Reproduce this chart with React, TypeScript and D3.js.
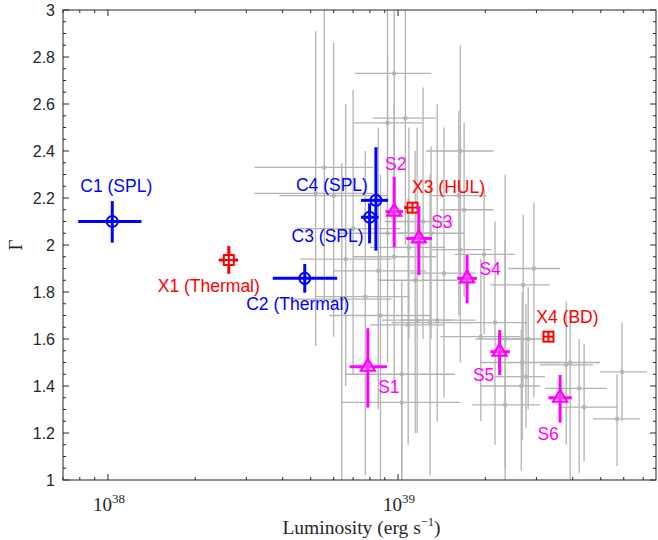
import React from "react";
import * as d3 from "d3";

// Luminosities in units of 1e39 erg/s, photon index Γ
// Gray sample: [L, Γ, L_lo, L_hi, Γ_lo, Γ_hi]
const grayL = [0.97, 1.06, 0.92, 0.557, 1.64, 1.69, 1.98, 2.94, 2.70, 1.03, 1.03, 1.93, 2.81, 2.68, 2.76, 2.66, 2.34, 3.80, 3.92, 4.21, 4.38, 5.92, 5.69, 0.52, 0.60, 0.70, 0.855, 0.97, 1.146, 1.44, 1.64, 0.87, 1.084, 1.164, 1.29, 1.365, 1.09, 2.16, 2.34, 0.92, 0.64, 0.771, 1.62, 1.22, 0.66, 1.30];
const grayG = [2.73, 2.54, 2.52, 2.33, 2.40, 2.15, 1.96, 1.90, 1.83, 1.45, 1.33, 1.61, 1.60, 1.50, 1.44, 1.40, 1.32, 1.49, 1.50, 1.39, 1.31, 1.46, 1.26, 2.22, 2.21, 2.07, 1.89, 1.95, 1.85, 1.88, 1.98, 1.70, 1.66, 1.68, 1.67, 1.68, 1.99, 1.67, 1.60, 2.05, 1.77, 1.78, 2.21, 2.10, 1.94, 2.05];
const grayLlo = [0.71, 0.82, 0.70, 0.32, 1.25, 1.40, 1.57, 2.40, 2.08, 0.66, 0.64, 1.40, 2.25, 1.92, 2.16, 1.92, 1.80, 3.09, 3.21, 3.21, 3.62, 4.97, 4.70, 0.32, 0.39, 0.45, 0.60, 0.70, 0.85, 1.10, 1.30, 0.58, 0.80, 0.88, 0.95, 1.02, 0.80, 1.60, 1.85, 0.62, 0.42, 0.52, 1.30, 0.90, 0.46, 1.00];
const grayLhi = [1.30, 1.35, 1.21, 0.82, 2.13, 2.13, 2.53, 3.62, 3.34, 1.57, 1.64, 2.64, 3.48, 3.62, 3.21, 3.09, 3.09, 4.70, 4.97, 5.25, 5.69, 7.21, 6.82, 0.82, 0.92, 1.02, 1.25, 1.35, 1.60, 1.85, 2.10, 1.30, 1.45, 1.55, 1.80, 1.85, 1.45, 2.80, 2.95, 1.35, 0.95, 1.10, 2.02, 1.55, 0.95, 1.70];
const grayGlo = [2.22, 2.00, 2.08, 1.75, 1.80, 1.78, 1.62, 1.35, 1.40, 1.00, 1.00, 1.25, 1.30, 1.17, 1.22, 1.04, 1.00, 1.15, 1.00, 1.03, 1.08, 1.25, 1.06, 1.57, 1.61, 1.45, 1.30, 1.40, 1.20, 1.35, 1.50, 1.00, 1.15, 1.20, 1.02, 1.25, 1.60, 1.15, 1.05, 1.50, 1.00, 1.02, 1.70, 1.60, 1.40, 1.60];
const grayGhi = [3.0, 3.0, 3.0, 3.0, 2.85, 2.52, 2.24, 2.18, 2.13, 1.85, 1.78, 1.94, 1.82, 1.80, 1.75, 1.64, 2.02, 1.76, 1.72, 1.60, 1.58, 1.67, 1.45, 2.91, 2.86, 2.66, 2.50, 2.60, 2.40, 2.50, 2.45, 2.30, 2.20, 2.50, 2.30, 2.60, 2.50, 2.10, 2.30, 2.80, 2.35, 2.40, 2.57, 2.67, 2.60, 2.42];

// Blue sources (C)
const cNames = ["C1 (SPL)", "C2 (Thermal)", "C3 (SPL)", "C4 (SPL)"];
const cL = [0.1035, 0.477, 0.798, 0.839];
const cG = [2.10, 1.858, 2.118, 2.19];
const cLlo = [0.079, 0.370, 0.745, 0.745];
const cLhi = [0.1305, 0.617, 0.857, 0.923];
const cGlo = [2.01, 1.797, 2.007, 1.976];
const cGhi = [2.187, 1.919, 2.177, 2.416];

// Red sources (X)
const xNames = ["X1 (Thermal)", "X3 (HUL)", "X4 (BD)"];
const xL = [0.261, 1.122, 3.30];
const xG = [1.936, 2.159, 1.61];
const xLlo = [0.241, 1.05, 3.22];
const xLhi = [0.281, 1.18, 3.38];
const xGlo = [1.877, 2.14, 1.595];
const xGhi = [1.996, 2.174, 1.625];

// Magenta sources (S)
const sNames = ["S1", "S2", "S3", "S4", "S5", "S6"];
const sL = [0.787, 0.970, 1.18, 1.73, 2.24, 3.62];
const sG = [1.482, 2.142, 2.028, 1.858, 1.546, 1.35];
const sLlo = [0.681, 0.906, 1.067, 1.60, 2.08, 3.30];
const sLhi = [0.916, 1.04, 1.31, 1.87, 2.43, 3.97];
const sGlo = [1.308, 1.99, 1.872, 1.752, 1.447, 1.244];
const sGhi = [1.646, 2.29, 2.166, 1.957, 1.638, 1.447];

const yTicks = [1, 1.2, 1.4, 1.6, 1.8, 2, 2.2, 2.4, 2.6, 2.8, 3];
const xMajor = [1e38, 1e39];

const W = 658, H = 540;
const left = 63, right = 656, top = 10, bottom = 480;
const axisColor = "#262626";
const sans = "'Liberation Sans', Arial, Helvetica, sans-serif";
const serif = "'Liberation Serif', 'Times New Roman', serif";

// label offsets (px) relative to each marker
const cOff = [[4, -36], [-7, 26], [-42, 19], [-44, -15]];
const xOff = [[-20, 26], [36, -21], [19, -20]];
const sOff = [[21, 20], [1.5, -48], [23, -16], [23, -9], [-16, 23], [-12, 36]];

export default function App() {
  const x = d3.scaleLog().domain([7e37, 7.75e39]).range([left, right]);
  const y = d3.scaleLinear().domain([1, 3]).range([bottom, top]);
  const E = 1e39;

  const xMinor: number[] = [];
  for (let e = 37; e <= 39; e++) {
    for (let m = 2; m <= 9; m++) {
      const v = m * Math.pow(10, e);
      if (v >= 7e37 && v <= 7.75e39) xMinor.push(v);
    }
  }
  const yMinor = d3.range(1, 3.0001, 0.05).filter((v) => Math.abs(v * 5 - Math.round(v * 5)) > 1e-6);

  const errBars = (
    L: number[], G: number[], Llo: number[], Lhi: number[], Glo: number[], Ghi: number[],
    color: string, w: number, key: string
  ) =>
    L.map((l, i) => (
      <g key={key + i} stroke={color} strokeWidth={w}>
        <line x1={x(Llo[i] * E)} x2={x(Lhi[i] * E)} y1={y(G[i])} y2={y(G[i])} />
        <line x1={x(l * E)} x2={x(l * E)} y1={y(Glo[i])} y2={y(Ghi[i])} />
      </g>
    ));

  return (
    <svg width={W} height={H} style={{ position: "absolute", left: 0, top: 0, background: "#fff" }}>
      <defs>
        <clipPath id="plotArea">
          <rect x={left} y={top} width={right - left} height={bottom - top} />
        </clipPath>
      </defs>
      <rect x={0} y={0} width={W} height={H} fill="#fff" />

      <g clipPath="url(#plotArea)">
        {errBars(grayL, grayG, grayLlo, grayLhi, grayGlo, grayGhi, "#b3b3b3", 1.3, "g")}
        {grayL.map((l, i) => (
          <circle key={"gd" + i} cx={x(l * E)} cy={y(grayG[i])} r={2.2} fill="#b3b3b3" />
        ))}

        {errBars(cL, cG, cLlo, cLhi, cGlo, cGhi, "#0000ff", 3, "c")}
        {cL.map((l, i) => (
          <circle key={"cm" + i} cx={x(l * E)} cy={y(cG[i])} r={5.5} fill="none" stroke="#0000ff" strokeWidth={2} />
        ))}

        {errBars(xL, xG, xLlo, xLhi, xGlo, xGhi, "#ff0000", 3, "x")}
        {xL.map((l, i) => (
          <g key={"xm" + i}>
            <rect x={x(l * E) - 5} y={y(xG[i]) - 5} width={10} height={10} fill="#fff" stroke="#ff0000" strokeWidth={2} />
            <line x1={x(l * E) - 5} x2={x(l * E) + 5} y1={y(xG[i])} y2={y(xG[i])} stroke="#ff0000" strokeWidth={2} />
            <line x1={x(l * E)} x2={x(l * E)} y1={y(xG[i]) - 5} y2={y(xG[i]) + 5} stroke="#ff0000" strokeWidth={2} />
          </g>
        ))}

        {errBars(sL, sG, sLlo, sLhi, sGlo, sGhi, "#ff00ff", 3, "s")}
        {sL.map((l, i) => {
          const cx = x(l * E), cy = y(sG[i]);
          return (
            <path key={"sm" + i}
              d={`M${cx},${cy - 8} L${cx + 7},${cy + 4} L${cx - 7},${cy + 4} Z`}
              fill="#ff99ff" fillOpacity={0.35} stroke="#ff00ff" strokeWidth={2.2} strokeLinejoin="miter" />
          );
        })}
      </g>

      {/* annotations */}
      <g fontFamily={sans} fontSize={17.5} textAnchor="middle" dominantBaseline="central">
        {cNames.map((n, i) => (
          <text key={"ct" + i} x={x(cL[i] * E) + cOff[i][0]} y={y(cG[i]) + cOff[i][1]} fill="#0000ff">{n}</text>
        ))}
        {xNames.map((n, i) => (
          <text key={"xt" + i} x={x(xL[i] * E) + xOff[i][0]} y={y(xG[i]) + xOff[i][1]} fill="#ff0000">{n}</text>
        ))}
        {sNames.map((n, i) => (
          <text key={"st" + i} x={x(sL[i] * E) + sOff[i][0]} y={y(sG[i]) + sOff[i][1]} fill="#ff00ff">{n}</text>
        ))}
      </g>

      {/* axes box */}
      <rect x={left} y={top} width={right - left} height={bottom - top} fill="none" stroke={axisColor} strokeWidth={1} />
      <g stroke={axisColor} strokeWidth={1}>
        {yTicks.map((t) => (
          <g key={"yt" + t}>
            <line x1={left} x2={left + 6} y1={y(t)} y2={y(t)} />
            <line x1={right} x2={right - 6} y1={y(t)} y2={y(t)} />
          </g>
        ))}
        {yMinor.map((t) => (
          <g key={"ym" + t}>
            <line x1={left} x2={left + 3} y1={y(t)} y2={y(t)} />
            <line x1={right} x2={right - 3} y1={y(t)} y2={y(t)} />
          </g>
        ))}
        {xMajor.map((t) => (
          <g key={"xt" + t}>
            <line x1={x(t)} x2={x(t)} y1={bottom} y2={bottom - 6} />
            <line x1={x(t)} x2={x(t)} y1={top} y2={top + 6} />
          </g>
        ))}
        {xMinor.map((t) => (
          <g key={"xm" + t}>
            <line x1={x(t)} x2={x(t)} y1={bottom} y2={bottom - 3} />
            <line x1={x(t)} x2={x(t)} y1={top} y2={top + 3} />
          </g>
        ))}
      </g>

      {/* tick labels */}
      <g fontFamily={sans} fontSize={16} fill={axisColor}>
        {yTicks.map((t) => (
          <text key={"yl" + t} x={left - 8} y={y(t)} textAnchor="end" dominantBaseline="central">
            {d3.format("~g")(t)}
          </text>
        ))}
      </g>
      <g fontFamily={serif} fontSize={19} fill={axisColor}>
        {xMajor.map((t) => (
          <text key={"xl" + t} x={x(t) + 1} y={511} textAnchor="middle">
            <tspan>10</tspan>
            <tspan fontSize={13} dy={-8}>{Math.round(Math.log10(t))}</tspan>
          </text>
        ))}
      </g>

      {/* axis titles */}
      <text x={(left + right) / 2 + 2} y={534} textAnchor="middle" fontFamily={serif} fontSize={19.5} fill={axisColor}>
        Luminosity (erg s<tspan fontSize={12.5} dy={-8}>−1</tspan><tspan dy={8}>)</tspan>
      </text>
      <text transform={`translate(22, ${(top + bottom) / 2}) rotate(-90)`} textAnchor="middle"
        fontFamily={serif} fontSize={19} fill={axisColor}>
        Γ
      </text>
    </svg>
  );
}
